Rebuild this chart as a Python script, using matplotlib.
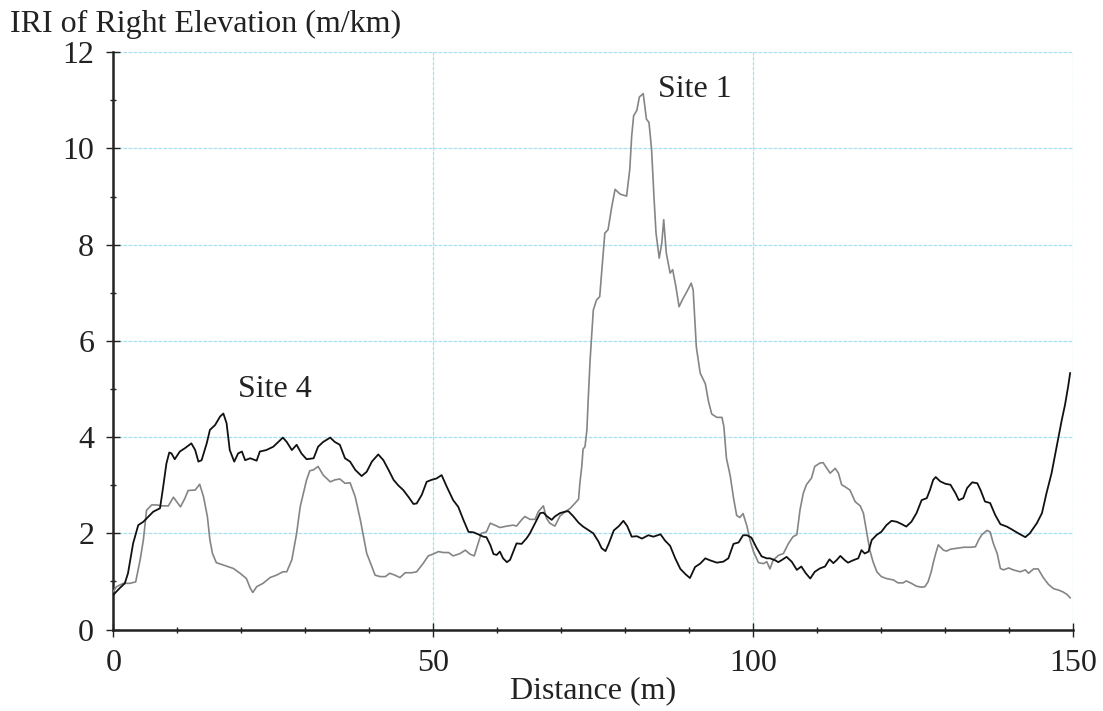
import matplotlib
matplotlib.use("Agg")
import matplotlib.pyplot as plt
from matplotlib.ticker import MultipleLocator

# Site 4 (black)
site4_x = [0.0, 1.0, 1.8, 2.3, 3.1, 3.9, 4.7, 5.5, 6.25, 7.3, 7.8, 8.3, 8.75, 9.1, 9.6,
           10.4, 11.2, 12.2, 12.8, 13.3, 13.8, 14.6, 15.1, 15.9, 16.7, 17.2, 17.7, 18.2,
           18.9, 19.5, 20.1, 20.6, 21.4, 22.4, 22.9, 23.9, 25.0, 25.8, 26.5, 27.1, 27.9,
           28.65, 29.4, 30.2, 31.3, 32.0, 32.8, 33.9, 34.6, 35.4, 36.2, 37.0, 37.8, 38.8,
           39.6, 40.4, 41.4, 42.2, 43.0, 43.8, 44.5, 45.3, 46.1, 46.9, 47.4, 48.2, 48.96,
           49.7, 50.5, 51.3, 52.1, 53.1, 53.9, 54.7, 55.5, 56.3, 57.0, 57.8, 58.3, 58.9,
           59.4, 59.9, 60.4, 60.9, 61.5, 62.0, 62.5, 63.0, 63.8, 64.6, 65.1, 65.9, 66.7,
           67.2, 67.7, 68.5, 69.0, 69.8, 70.6, 71.1, 71.9, 72.7, 73.4, 74.2, 75.0, 75.8,
           76.3, 76.9, 77.4, 78.2, 79.0, 79.7, 80.3, 81.0, 81.8, 82.6, 83.6, 84.4, 85.5,
           86.2, 87.0, 87.8, 88.6, 89.4, 90.1, 90.9, 91.7, 92.5, 93.2, 94.3, 95.3, 96.1,
           96.9, 97.7, 98.4, 99.0, 99.7, 100.5, 101.3, 102.1, 102.6, 103.4, 103.9, 104.4,
           105.2, 106.0, 106.8, 107.5, 108.2, 108.9, 109.6, 110.4, 111.2, 111.9, 112.5,
           113.0, 113.6, 114.3, 114.8, 115.6, 116.4, 116.9, 117.4, 118.0, 118.5, 119.3,
           120.0, 120.8, 121.6, 122.4, 123.2, 123.9, 124.7, 125.5, 126.3, 127.1, 127.6,
           128.1, 128.5, 129.2, 130.0, 130.8, 131.6, 132.1, 132.8, 133.4, 134.2, 135.0,
           135.5, 136.2, 137.0, 137.8, 138.6, 139.6, 140.4, 141.4, 142.5, 143.2, 144.3,
           145.1, 145.8, 146.6, 147.4, 148.2, 148.7, 149.2, 149.5]
site4_y = [0.72, 0.86, 0.96, 1.17, 1.79, 2.17, 2.24, 2.35, 2.45, 2.52, 2.97, 3.45, 3.68, 3.66,
           3.54, 3.70, 3.77, 3.87, 3.73, 3.49, 3.52, 3.87, 4.15, 4.25, 4.43, 4.49, 4.29, 3.73,
           3.49, 3.66, 3.70, 3.52, 3.56, 3.51, 3.70, 3.73, 3.80, 3.90, 3.99, 3.90, 3.73, 3.84,
           3.66, 3.54, 3.56, 3.80, 3.90, 3.99, 3.90, 3.84, 3.56, 3.49, 3.32, 3.19, 3.28, 3.49,
           3.64, 3.52, 3.32, 3.11, 3.00, 2.90, 2.76, 2.61, 2.62, 2.80, 3.07, 3.11, 3.14, 3.21,
           2.97, 2.69, 2.55, 2.28, 2.03, 2.02, 1.98, 1.93, 1.92, 1.76, 1.57, 1.55, 1.62, 1.48,
           1.40, 1.45, 1.62, 1.79, 1.78, 1.90, 2.00, 2.21, 2.42, 2.43, 2.36, 2.28, 2.35, 2.42,
           2.45, 2.46, 2.35, 2.22, 2.14, 2.07, 2.00, 1.83, 1.69, 1.63, 1.78, 2.06, 2.15, 2.26,
           2.15, 1.93, 1.94, 1.89, 1.96, 1.93, 1.98, 1.85, 1.74, 1.48, 1.26, 1.15, 1.07, 1.30,
           1.37, 1.48, 1.44, 1.39, 1.41, 1.48, 1.78, 1.81, 1.96, 1.96, 1.91, 1.70, 1.52, 1.48,
           1.48, 1.44, 1.40, 1.44, 1.51, 1.41, 1.24, 1.31, 1.17, 1.06, 1.20, 1.27, 1.31, 1.46,
           1.38, 1.44, 1.53, 1.44, 1.39, 1.44, 1.48, 1.65, 1.58, 1.62, 1.86, 1.97, 2.03, 2.17,
           2.26, 2.24, 2.19, 2.14, 2.24, 2.42, 2.69, 2.73, 2.90, 3.11, 3.17, 3.08, 3.03, 3.01,
           2.83, 2.69, 2.73, 2.94, 3.06, 3.04, 2.90, 2.66, 2.63, 2.38, 2.19, 2.14, 2.08, 2.00,
           1.92, 2.00, 2.21, 2.42, 2.83, 3.25, 3.81, 4.36, 4.67, 5.06, 5.33]

# Site 1 (grey)
site1_x = [0.0, 0.5, 1.56, 2.6, 3.5, 4.2, 4.7, 5.2, 6.0, 6.8, 7.55, 8.6, 9.4, 9.9, 10.5, 11.2,
           11.7, 12.8, 13.5, 14.1, 14.7, 15.1, 15.5, 16.1, 17.2, 18.75, 19.8, 20.8, 21.4,
           21.8, 22.4, 23.4, 24.5, 25.5, 26.5, 27.1, 27.9, 28.65, 29.2, 29.7, 30.2, 30.7,
           31.3, 32.0, 32.8, 33.9, 34.6, 35.4, 36.2, 37.0, 37.8, 38.6, 39.1, 39.6, 40.4,
           40.9, 41.7, 42.5, 43.2, 44.0, 44.8, 45.6, 46.6, 47.4, 48.45, 49.2, 50.0, 50.8,
           51.6, 52.4, 53.1, 54.2, 55.0, 55.7, 56.4, 57.0, 57.5, 58.3, 58.9, 59.6, 60.4,
           61.5, 62.5, 63.0, 63.8, 64.3, 65.1, 65.9, 66.4, 67.2, 67.7, 68.2, 69.0, 69.8,
           70.6, 71.4, 72.1, 72.7, 72.9, 73.2, 73.4, 73.7, 74.0, 74.2, 74.5, 75.0, 75.5,
           76.0, 76.3, 76.8, 77.3, 77.9, 78.4, 79.2, 80.2, 80.7, 81.0, 81.3, 81.8, 82.2,
           82.8, 83.3, 83.7, 84.1, 84.5, 84.8, 85.3, 85.7, 86.0, 86.4, 87.0, 87.4, 87.9,
           88.4, 88.9, 89.6, 90.3, 90.6, 91.1, 91.7, 92.5, 93.0, 93.5, 94.3, 95.1, 95.4,
           95.8, 96.4, 96.9, 97.4, 97.9, 98.4, 99.0, 99.5, 100.0, 100.8, 101.6, 102.1,
           102.6, 103.1, 103.9, 104.7, 105.5, 106.2, 106.8, 107.3, 107.8, 108.3, 109.1,
           109.6, 110.4, 110.9, 111.5, 112.0, 112.8, 113.3, 113.8, 114.3, 115.1, 115.9,
           116.7, 117.2, 117.7, 118.2, 118.7, 119.3, 120.0, 120.8, 121.9, 122.6, 123.4,
           123.9, 124.7, 125.5, 126.3, 126.8, 127.3, 127.8, 128.1, 128.5, 128.9, 129.7,
           130.2, 130.8, 131.8, 132.9, 133.9, 134.7, 135.2, 135.7, 136.5, 137.0, 137.5,
           138.1, 138.6, 139.1, 139.9, 140.6, 141.7, 142.5, 143.0, 143.8, 144.5, 145.3,
           146.1, 146.9, 147.7, 148.4, 149.0, 149.5]
site1_y = [0.79, 0.89, 0.96, 0.96, 0.99, 1.45, 1.86, 2.48, 2.59, 2.59, 2.57, 2.57, 2.75, 2.66,
           2.55, 2.73, 2.89, 2.90, 3.02, 2.76, 2.35, 1.86, 1.58, 1.39, 1.34, 1.27, 1.17, 1.06,
           0.86, 0.77, 0.89, 0.96, 1.08, 1.13, 1.20, 1.20, 1.45, 2.00, 2.55, 2.83, 3.11, 3.30,
           3.32, 3.39, 3.21, 3.07, 3.11, 3.13, 3.04, 3.05, 2.76, 2.28, 1.93, 1.58, 1.31, 1.13,
           1.10, 1.10, 1.17, 1.13, 1.08, 1.18, 1.18, 1.20, 1.38, 1.53, 1.57, 1.62, 1.60, 1.60,
           1.53, 1.58, 1.65, 1.57, 1.53, 1.79, 2.00, 2.03, 2.21, 2.17, 2.12, 2.15, 2.17, 2.15,
           2.28, 2.35, 2.29, 2.29, 2.45, 2.57, 2.31, 2.21, 2.15, 2.36, 2.45, 2.52, 2.62, 2.71,
           3.04, 3.39, 3.75, 3.80, 4.15, 4.77, 5.60, 6.64, 6.85, 6.92, 7.41, 8.24, 8.31, 8.80,
           9.15, 9.05, 9.01, 9.57, 10.26, 10.68, 10.79, 11.07, 11.14, 10.61, 10.54, 9.99, 8.94,
           8.24, 7.72, 8.03, 8.52, 7.83, 7.41, 7.48, 7.13, 6.71, 6.85, 7.02, 7.20, 7.06, 5.87,
           5.33, 5.11, 4.74, 4.48, 4.41, 4.41, 4.22, 3.56, 3.19, 2.74, 2.37, 2.33, 2.41, 2.15,
           1.85, 1.63, 1.39, 1.37, 1.41, 1.26, 1.44, 1.54, 1.58, 1.79, 1.93, 1.97, 2.49, 2.83,
           3.01, 3.15, 3.39, 3.46, 3.47, 3.35, 3.25, 3.35, 3.25, 3.01, 2.97, 2.90, 2.66, 2.57,
           2.42, 2.03, 1.65, 1.41, 1.20, 1.10, 1.06, 1.03, 0.97, 0.97, 1.01, 0.96, 0.90, 0.88,
           0.89, 0.99, 1.20, 1.38, 1.58, 1.76, 1.65, 1.63, 1.67, 1.69, 1.71, 1.71, 1.72, 1.86,
           1.97, 2.06, 2.03, 1.79, 1.58, 1.27, 1.24, 1.28, 1.24, 1.20, 1.24, 1.17, 1.26, 1.26,
           1.08, 0.94, 0.85, 0.82, 0.78, 0.73, 0.66]

x_ticks = [0, 50, 100, 150]
y_ticks = [0, 2, 4, 6, 8, 10, 12]

plt.rcParams['font.family'] = ['Liberation Serif', 'DejaVu Serif']

fig = plt.figure(figsize=(11.03, 7.11), dpi=100)
ax = fig.add_axes([0.1027, 0.1146, 0.8704, 0.8119])

ax.plot(site1_x, site1_y, color='#858585', lw=1.2, zorder=3)
ax.plot(site4_x, site4_y, color='#111111', lw=1.3, zorder=4)

ax.set_xlim(0, 150)
ax.set_ylim(0, 12)
ax.set_xticks(x_ticks)
ax.set_yticks(y_ticks)
ax.xaxis.set_minor_locator(MultipleLocator(10))
ax.yaxis.set_minor_locator(MultipleLocator(1))

ax.grid(True, which='major', color='#a6e0f2', lw=0.9, ls=(0, (3, 1)), zorder=0)

for s in ['top', 'right']:
    ax.spines[s].set_visible(False)
for s in ['left', 'bottom']:
    ax.spines[s].set_linewidth(1.8)
    ax.spines[s].set_color('#222222')

ax.tick_params(which='major', direction='inout', length=9.5, width=1.0, labelsize=23,
               pad=9, colors='#222222')
ax.tick_params(which='minor', direction='inout', length=5, width=1.0, colors='#222222')
ax.tick_params(axis='y', pad=9)

fig.text(0.009, 0.9554, 'IRI of Right Elevation (m/km)', fontsize=23, color='#222222',
         ha='left', va='baseline')
ax.set_xlabel('Distance (m)', fontsize=23, color='#222222', labelpad=-1)

ax.text(85.1, 11.06, 'Site 1', fontsize=23, color='#222222', ha='left', va='baseline')
ax.text(19.5, 4.84, 'Site 4', fontsize=23, color='#222222', ha='left', va='baseline')

fig.savefig('out.png', dpi=100)
